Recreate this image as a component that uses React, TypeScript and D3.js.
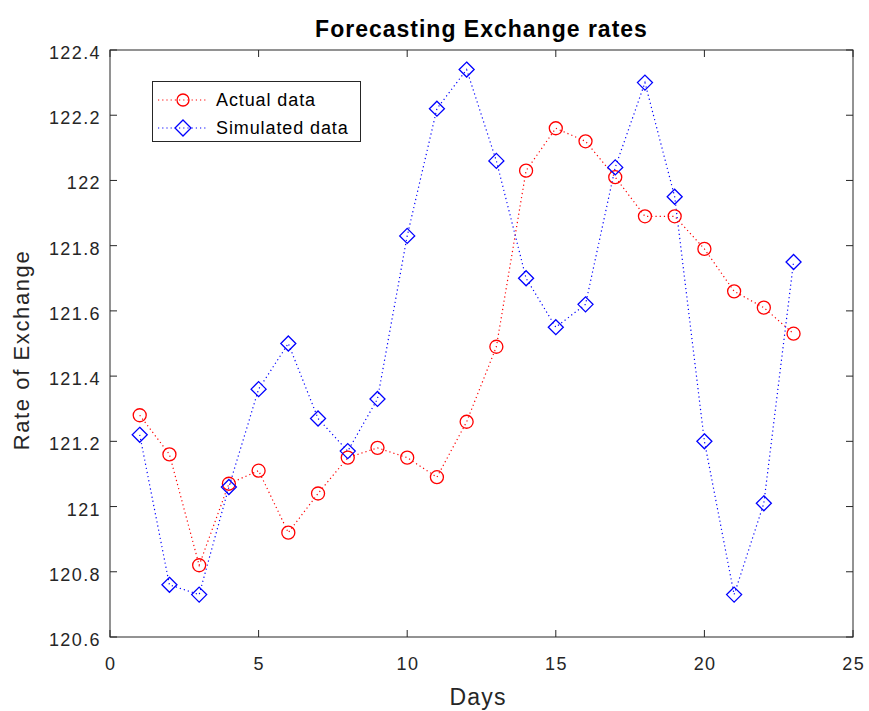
import React, { useEffect, useRef } from 'react'
import * as d3 from 'd3'

const days = d3.range(1, 24)
const actual = [121.28, 121.16, 120.82, 121.07, 121.11, 120.92, 121.04, 121.15, 121.18, 121.15, 121.09, 121.26,
    121.49, 122.03, 122.16, 122.12, 122.01, 121.89, 121.89, 121.79, 121.66, 121.61, 121.53]
const simulated = [121.22, 120.76, 120.73, 121.06, 121.36, 121.50, 121.27, 121.17, 121.33, 121.83, 122.22, 122.34,
    122.06, 121.70, 121.55, 121.62, 122.04, 122.30, 121.95, 121.20, 120.73, 121.01, 121.75]
const xTicks = [0, 5, 10, 15, 20, 25]
const yTicks = [120.6, 120.8, 121, 121.2, 121.4, 121.6, 121.8, 122, 122.2, 122.4]
const seriesNames = ['Actual data', 'Simulated data']

function App() {
    const svgRef = useRef<SVGSVGElement>(null)

    useEffect(() => {
        const width = 869
        const height = 711
        const left = 110, right = 853, top = 50, bottom = 637
        const font = 'Arial, "Liberation Sans", Helvetica, sans-serif'

        const svg = d3.select(svgRef.current)
            .attr('width', width)
            .attr('height', height)
            .style('position', 'absolute')
            .style('left', '0px')
            .style('top', '0px')
            .style('background', '#fff')
        svg.selectAll('*').remove()

        const x = d3.scaleLinear().domain([0, 25]).range([left, right])
        const y = d3.scaleLinear().domain([120.6, 122.4]).range([bottom, top])

        const line = d3.line<number>()
            .x((d, i) => x(days[i]))
            .y(d => y(d))

        const plot = svg.append('g')

        // lines
        plot.append('path')
            .attr('d', line(actual))
            .attr('fill', 'none')
            .attr('stroke', '#ff0000')
            .attr('stroke-width', 1.2)
            .attr('stroke-dasharray', '1.2,3')
        plot.append('path')
            .attr('d', line(simulated))
            .attr('fill', 'none')
            .attr('stroke', '#0000ff')
            .attr('stroke-width', 1.2)
            .attr('stroke-dasharray', '1.2,3')

        // markers
        plot.selectAll('.circ')
            .data(actual)
            .join('circle')
            .attr('cx', (d, i) => x(days[i]))
            .attr('cy', d => y(d))
            .attr('r', 6.5)
            .attr('fill', 'none')
            .attr('stroke', '#ff0000')
            .attr('stroke-width', 1.3)

        const diamond = (cx: number, cy: number, s = 7.5) =>
            `M${cx},${cy - s}L${cx + s},${cy}L${cx},${cy + s}L${cx - s},${cy}Z`

        plot.selectAll('.diam')
            .data(simulated)
            .join('path')
            .attr('d', (d, i) => diamond(x(days[i]), y(d)))
            .attr('fill', 'none')
            .attr('stroke', '#0000ff')
            .attr('stroke-width', 1.3)

        // axes box
        const axisColor = '#262626'
        svg.append('rect')
            .attr('x', left).attr('y', top)
            .attr('width', right - left).attr('height', bottom - top)
            .attr('fill', 'none')
            .attr('stroke', axisColor)
            .attr('stroke-width', 1)

        const tickLen = 7
        xTicks.forEach(t => {
            svg.append('line').attr('x1', x(t)).attr('x2', x(t)).attr('y1', bottom).attr('y2', bottom - tickLen)
                .attr('stroke', axisColor)
            svg.append('line').attr('x1', x(t)).attr('x2', x(t)).attr('y1', top).attr('y2', top + tickLen)
                .attr('stroke', axisColor)
            svg.append('text')
                .attr('x', x(t) + 0.7).attr('y', bottom + 33)
                .attr('text-anchor', 'middle')
                .attr('font-family', font).attr('font-size', 18)
                .attr('letter-spacing', 1.4)
                .attr('fill', axisColor)
                .text(t)
        })
        yTicks.forEach(t => {
            svg.append('line').attr('x1', left).attr('x2', left + tickLen).attr('y1', y(t)).attr('y2', y(t))
                .attr('stroke', axisColor)
            svg.append('line').attr('x1', right).attr('x2', right - tickLen).attr('y1', y(t)).attr('y2', y(t))
                .attr('stroke', axisColor)
            svg.append('text')
                .attr('x', left - 9).attr('y', y(t) + 9)
                .attr('text-anchor', 'end')
                .attr('font-family', font).attr('font-size', 18)
                .attr('letter-spacing', 1.4)
                .attr('fill', axisColor)
                .text(d3.format('~g')(t))
        })

        // title and labels
        svg.append('text')
            .attr('x', (left + right) / 2).attr('y', 37)
            .attr('text-anchor', 'middle')
            .attr('font-family', font).attr('font-size', 23).attr('font-weight', 'bold')
            .attr('letter-spacing', 1)
            .attr('fill', '#000')
            .text('Forecasting Exchange rates')
        svg.append('text')
            .attr('x', 478).attr('y', 705)
            .attr('text-anchor', 'middle')
            .attr('font-family', font).attr('font-size', 23)
            .attr('letter-spacing', 1.2)
            .attr('fill', axisColor)
            .text('Days')
        svg.append('text')
            .attr('transform', `translate(29, 350) rotate(-90)`)
            .attr('text-anchor', 'middle')
            .attr('font-family', font).attr('font-size', 22)
            .attr('letter-spacing', 1.6)
            .attr('fill', axisColor)
            .text('Rate of Exchange')

        // legend
        const lg = svg.append('g')
        lg.append('rect')
            .attr('x', 152.5).attr('y', 81.5).attr('width', 208).attr('height', 60)
            .attr('fill', '#fff').attr('stroke', axisColor)
        const colors = ['#ff0000', '#0000ff']
        seriesNames.forEach((name, i) => {
            const ly = 100 + i * 28
            lg.append('line').attr('x1', 158).attr('x2', 208).attr('y1', ly).attr('y2', ly)
                .attr('stroke', colors[i]).attr('stroke-width', 1.2).attr('stroke-dasharray', '1.2,3')
            if (i === 0) {
                lg.append('circle').attr('cx', 183).attr('cy', ly).attr('r', 6)
                    .attr('fill', 'none').attr('stroke', colors[i]).attr('stroke-width', 1.3)
            } else {
                lg.append('path').attr('d', diamond(183, ly, 8))
                    .attr('fill', 'none').attr('stroke', colors[i]).attr('stroke-width', 1.3)
            }
            lg.append('text')
                .attr('x', 216).attr('y', ly + 6)
                .attr('font-family', font).attr('font-size', 18)
                .attr('letter-spacing', 0.9)
                .attr('fill', '#000')
                .text(name)
        })
    }, [])

    return (
        <div>
            <svg ref={svgRef}></svg>
        </div>
    )
}

export default App
